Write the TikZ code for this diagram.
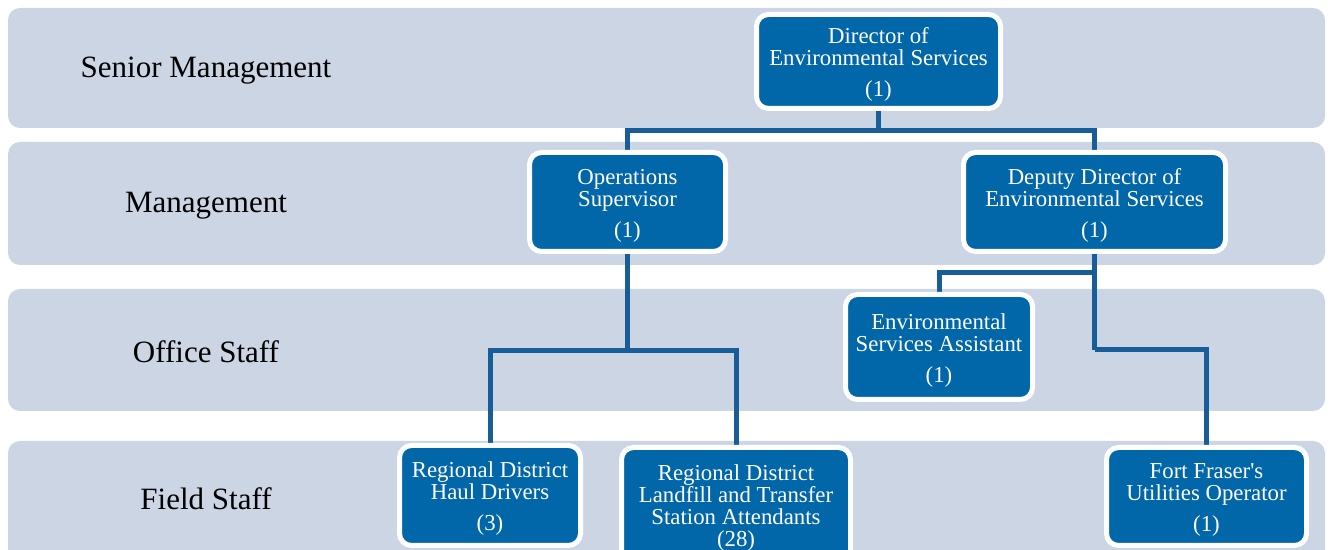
\documentclass[tikz,border=0pt]{standalone}
\usepackage{fontspec}
\setmainfont{Liberation Serif}
\definecolor{bandgray}{RGB}{203,213,227}
\definecolor{boxblue}{RGB}{2,103,168}
\definecolor{linkblue}{RGB}{24,92,152}
\pgfdeclarelayer{bg}
\pgfsetlayers{bg,main}
\begin{document}
\begin{tikzpicture}[x=0.5pt,y=-0.5pt,
    band/.style={fill=bandgray,rounded corners=6pt},
    level/.style={font=\fontsize{15.5}{17}\selectfont},
    post/.style={draw=white,line width=2.5pt,fill=boxblue,text=white,
      rounded corners=6pt,align=center,inner sep=0pt,
      font=\fontsize{11.4}{11}\selectfont},
    link/.style={draw=linkblue,line width=2.5pt}]
  \useasboundingbox (0,0) rectangle (1330,550);
  \clip (0,0) rectangle (1330,550);
  % bands for the levels
  \begin{pgfonlayer}{bg}
    \fill[band] (8,8) rectangle (1325,128);
    \fill[band] (8,142) rectangle (1325,265);
    \fill[band] (8,289) rectangle (1325,411);
    \fill[band] (8,441) rectangle (1325,575);
  \end{pgfonlayer}
  \node[level] (lsen) at (206,71) {Senior Management};
  \node[level] (lman) at (206,206) {Management};
  \node[level] (loff) at (206,352) {Office Staff};
  \node[level] (lfld) at (206,499) {Field Staff};
  % posts
  \node[post,minimum width=122pt,minimum height=47pt] (dir) at (878.5,61.5)
  {\rule{0pt}{11pt}Director of\\Environmental Services\\[4.5pt](1)};
  \node[post,minimum width=98pt,minimum height=49.5pt] (ops) at (627.5,202)
  {\rule{0pt}{11pt}Operations\\Supervisor\\[4.5pt](1)};
  \node[post,minimum width=131pt,minimum height=49.5pt] (dep) at (1094.5,202)
  {\rule{0pt}{11pt}Deputy Director of\\Environmental Services\\[4.5pt](1)};
  \node[post,minimum width=93.5pt,minimum height=52.5pt] (asst) at (939,347)
  {\rule{0pt}{11pt}Environmental\\Services Assistant\\[4.5pt](1)};
  \node[post,minimum width=90.5pt,minimum height=50pt] (haul) at (490,495.5)
  {\rule{0pt}{11pt}Regional District\\Haul Drivers\\[4.5pt](3)};
  \node[post,minimum width=114.5pt,minimum height=57.5pt] (land) at (736,505)
  {\rule{0pt}{11pt}Regional District\\Landfill and Transfer\\Station Attendants\\(28)};
  \node[post,minimum width=100pt,minimum height=49pt] (fort) at (1206.5,496.5)
  {\rule{0pt}{11pt}Fort Fraser\textquotesingle s\\Utilities Operator\\[4.5pt](1)};
  % connectors
  \begin{pgfonlayer}{bg}
    \draw[link] (dir.south) -- ++(0,20) coordinate (j1);
    \draw[link] (ops.north) |- (j1) -| (dep.north);
    \draw[link] (dep.south) -- ++(0,19) coordinate (j2);
    \draw[link] (asst.north) |- (j2);
    \draw[link] (j2) -- ++(0,77) coordinate (j3);
    \draw[link] (j3) -| (fort.north);
    \draw[link] (ops.south) -- ++(0,97) coordinate (j4);
    \draw[link] (haul.north) |- (j4) -| (land.north);
  \end{pgfonlayer}
\end{tikzpicture}
\end{document}
